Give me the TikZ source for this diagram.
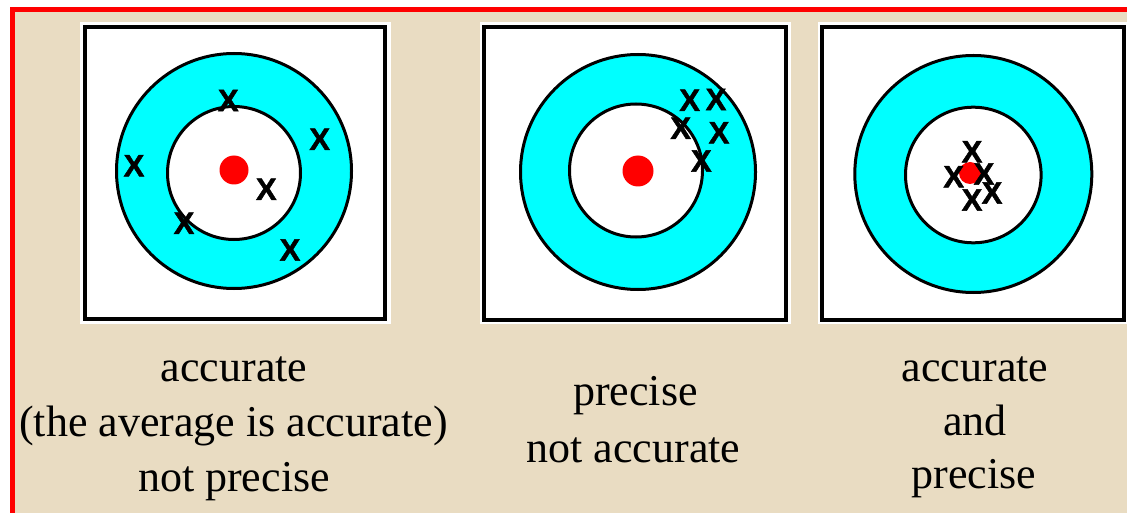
\documentclass[tikz,border=0pt]{standalone}
\usepackage{fontspec}
\setmainfont{Liberation Serif}
\newfontfamily\xmarkfont[FakeBold=1.5]{Liberation Sans}
\definecolor{beige}{HTML}{E9DCC2}
\definecolor{aqua}{HTML}{00FFFF}
\definecolor{pure red}{HTML}{FF0000}
\begin{document}
\begin{tikzpicture}[x=1pt,y=-1pt,
  panelbg/.style={fill=white},
  panelframe/.style={draw=black,line width=4pt},
  ring/.style={fill=aqua,draw=black,line width=3pt},
  hole/.style={fill=white,draw=black,line width=3pt},
  bull/.style={fill=pure red},
  xmk/.style={font=\xmarkfont\bfseries\fontsize{31}{31}\selectfont,inner sep=0pt,text=black},
  lbl/.style={font=\fontsize{44}{55}\selectfont,inner sep=0pt,anchor=base}]
\useasboundingbox (0,0) rectangle (1127,513);
\fill[white] (0,0) rectangle (1127,513);
\fill[beige] (15,12) rectangle (1127,513);
\fill[pure red] (10,7) rectangle (1127,12);
\fill[pure red] (10,7) rectangle (15,513);
% panel 1
\fill[panelbg] (80,22) rectangle (391,324);
\draw[panelframe] (85.3,27) rectangle (385,318.5);
\filldraw[ring] (234,171) circle[radius=117.5];
\filldraw[hole] (234,173) circle[radius=66.5];
\fill[bull] (234,170) circle[radius=14.5];
\node[xmk] (a1) at (228.3,100.5) {X};
\node[xmk] (a2) at (319.7,139.3) {X};
\node[xmk] (a3) at (134,165.7) {X};
\node[xmk] (a4) at (266.3,189.3) {X};
\node[xmk] (a5) at (184,223.3) {X};
\node[xmk] (a6) at (290,250) {X};
% panel 2
\fill[panelbg] (480,22) rectangle (791,324);
\draw[panelframe] (484,27) rectangle (786,320);
\filldraw[ring] (638,172) circle[radius=117.5];
\filldraw[hole] (636,170.5) circle[radius=66.5];
\fill[bull] (638,171) circle[radius=15.5];
\node[xmk] (b1) at (689.7,100.3) {X};
\node[xmk] (b2) at (716,99.5) {X};
\node[xmk] (b3) at (680.7,128.3) {X};
\node[xmk] (b4) at (719,132.7) {X};
\node[xmk] (b5) at (701.3,161) {X};
% panel 3
\fill[panelbg] (818,22) rectangle (1127,324);
\draw[panelframe] (822,27) rectangle (1124,320.3);
\filldraw[ring] (973.3,174) circle[radius=118.5];
\filldraw[hole] (973.3,175) circle[radius=67.8];
\fill[bull] (970,173) circle[radius=11];
\node[xmk] (c1) at (972,151.7) {X};
\node[xmk] (c2) at (953.7,176.7) {X};
\node[xmk] (c3) at (984,174) {X};
\node[xmk] (c4) at (972,200) {X};
\node[xmk] (c5) at (992,193) {X};
% labels
\node[lbl] (l1a) at (234,381) {accurate};
\node[lbl] (l1b) at (233.5,436) {(the average is accurate)};
\node[lbl] (l1c) at (234,491) {not precise};
\node[lbl] (l2a) at (635.5,405) {precise};
\node[lbl] (l2b) at (633.5,462) {not accurate};
\node[lbl] (l3a) at (975,381) {accurate};
\node[lbl] (l3b) at (975,435) {and};
\node[lbl] (l3c) at (974,488) {precise};
\end{tikzpicture}
\end{document}
